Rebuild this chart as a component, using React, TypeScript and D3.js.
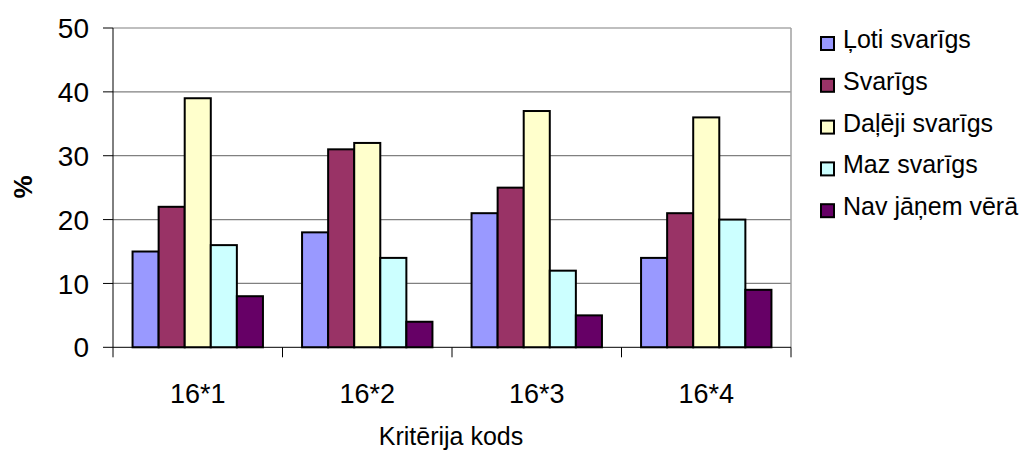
import React from "react";
import * as d3 from "d3";

const categories = ["16*1", "16*2", "16*3", "16*4"];
const seriesNames = ["Ļoti svarīgs", "Svarīgs", "Daļēji svarīgs", "Maz svarīgs", "Nav jāņem vērā"];
const seriesColors = ["#9999FF", "#993366", "#FFFFCC", "#CCFFFF", "#660066"];
const lotiSvarigs = [15, 18, 21, 14];
const svarigs = [22, 31, 25, 21];
const daleji = [39, 32, 37, 36];
const mazSvarigs = [16, 14, 12, 20];
const navJanem = [8, 4, 5, 9];
const yTicks = [0, 10, 20, 30, 40, 50];

const seriesValues = [lotiSvarigs, svarigs, daleji, mazSvarigs, navJanem];

export default function App() {
  const W = 1020, H = 451;
  const left = 113, right = 791, top = 28, bottom = 347.3;
  const font = "'Liberation Sans', Arial, sans-serif";

  const y = d3.scaleLinear().domain([0, 50]).range([bottom, top]);
  const x = d3.scaleBand<string>().domain(categories).range([left, right]).padding(0);
  const gw = x.bandwidth();
  const bw = gw / 6.5;
  const xs = d3.scaleBand<string>().domain(seriesNames).range([bw * 0.75, bw * 5.75]).padding(0);
  const boundaries = [...categories.map((c) => x(c) as number), right];

  return (
    <svg width={W} height={H} style={{ position: "absolute", left: 0, top: 0, background: "#fff" }}>
      {yTicks.filter((t) => t > 0).map((t) => (
        <line key={"g" + t} x1={left} x2={right} y1={y(t)} y2={y(t)} stroke="#808080" strokeWidth={1.2} />
      ))}
      <line x1={right} x2={right} y1={top} y2={bottom} stroke="#a0a0a0" strokeWidth={1.5} />
      {categories.map((c, ci) =>
        seriesNames.map((s, si) => {
          const v = seriesValues[si][ci];
          return (
            <rect
              key={c + s}
              x={(x(c) as number) + (xs(s) as number)}
              y={y(v)}
              width={xs.bandwidth()}
              height={y(0) - y(v)}
              fill={seriesColors[si]}
              stroke="#000"
              strokeWidth={2}
            />
          );
        })
      )}
      <line x1={left} x2={left} y1={top} y2={bottom} stroke="#000" strokeWidth={1} />
      {yTicks.map((t) => (
        <g key={"t" + t}>
          <line x1={left - 10} x2={left} y1={y(t)} y2={y(t)} stroke="#000" strokeWidth={1} />
          <text x={89} y={y(t)} dy="0.36em" textAnchor="end" fontFamily={font} fontSize={28} fill="#000">
            {t}
          </text>
        </g>
      ))}
      <line x1={left} x2={right} y1={bottom} y2={bottom} stroke="#000" strokeWidth={1} />
      {boundaries.map((b, i) => (
        <line key={"xb" + i} x1={b} x2={b} y1={bottom} y2={bottom + 10} stroke="#000" strokeWidth={1} />
      ))}
      {categories.map((c) => (
        <text key={"xl" + c} x={(x(c) as number) + gw / 2} y={403} textAnchor="middle" fontFamily={font} fontSize={27} fill="#000">
          {c}
        </text>
      ))}
      <text x={451} y={445} textAnchor="middle" fontFamily={font} fontSize={25} fill="#000">
        Kritērija kods
      </text>
      <text
        transform={`translate(32,187) rotate(-90)`}
        textAnchor="middle"
        fontFamily={font}
        fontSize={26}
        fontWeight="bold"
        fill="#000"
      >
        %
      </text>
      {seriesNames.map((s, i) => {
        const by = 48 + i * 41.8;
        return (
          <g key={"lg" + s}>
            <rect x={821} y={by - 11} width={13} height={13} fill={seriesColors[i]} stroke="#000" strokeWidth={2} />
            <text x={843} y={by} fontFamily={font} fontSize={25} fill="#000">
              {s}
            </text>
          </g>
        );
      })}
    </svg>
  );
}
